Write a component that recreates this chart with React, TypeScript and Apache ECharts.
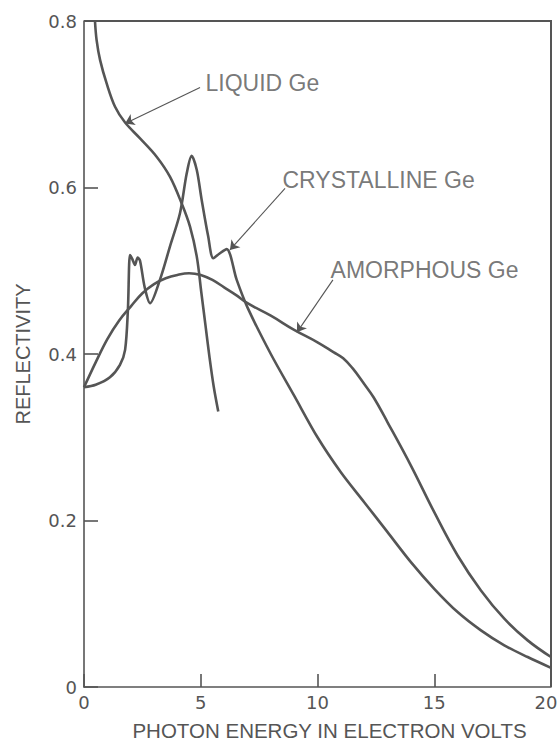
import React, { useEffect, useRef } from "react";
import * as echarts from "echarts";

// ---- data ----
const xTickValues = [0, 5, 10, 15, 20];
const yTickValues = [0, 0.2, 0.4, 0.6, 0.8];

const liquidX = [0.47, 0.54, 0.69, 0.97, 1.33, 1.76, 2.4, 3.11, 3.68, 4.18, 4.54, 4.83, 5.02, 5.2, 5.38, 5.56, 5.75];
const liquidY = [0.8, 0.777, 0.753, 0.725, 0.697, 0.678, 0.659, 0.637, 0.613, 0.581, 0.553, 0.517, 0.475, 0.435, 0.395, 0.36, 0.331];

const crystX = [0, 0.5, 1.11, 1.54, 1.76, 1.88, 1.97, 2.07, 2.18, 2.3, 2.4, 2.6, 2.83, 3.25, 3.68, 4.11, 4.4, 4.61, 4.83, 5.04, 5.32, 5.54, 5.82, 6.11, 6.54, 7.0, 8.0, 9.0, 10.0, 11.0, 12.0, 13.0, 14.0, 15.0, 16.0, 17.0, 18.0, 19.0, 20.0];
const crystY = [0.36, 0.363, 0.372, 0.387, 0.405, 0.453, 0.519, 0.514, 0.507, 0.516, 0.512, 0.48, 0.461, 0.489, 0.529, 0.569, 0.617, 0.638, 0.621, 0.585, 0.541, 0.515, 0.521, 0.526, 0.489, 0.456, 0.4, 0.35, 0.3, 0.258, 0.222, 0.186, 0.15, 0.118, 0.09, 0.068, 0.05, 0.036, 0.023];

const amorphX = [0, 0.5, 1.0, 1.5, 2.0, 2.5, 3.0, 3.5, 4.0, 4.5, 5.0, 5.5, 6.0, 6.5, 7.0, 8.0, 9.0, 10.0, 10.7, 11.1, 11.5, 12.0, 12.4, 13.0, 14.0, 15.0, 16.0, 17.0, 18.0, 19.0, 20.0];
const amorphY = [0.36, 0.39, 0.418, 0.44, 0.457, 0.473, 0.484, 0.491, 0.495, 0.497, 0.495, 0.489, 0.48, 0.471, 0.461, 0.446, 0.429, 0.414, 0.402, 0.395, 0.383, 0.364, 0.348, 0.318, 0.266, 0.21, 0.158, 0.116, 0.082, 0.056, 0.036];

const curveNames = ["LIQUID Ge", "CRYSTALLINE Ge", "AMORPHOUS Ge"];
const labelX = [5.18, 8.48, 10.54];
const labelY = [0.7255, 0.609, 0.501];
const arrowFromX = [4.97, 8.61, 10.66];
const arrowFromY = [0.72, 0.599, 0.489];
const arrowToX = [1.76, 6.25, 9.12];
const arrowToY = [0.677, 0.525, 0.426];

const xAxisTitle = "PHOTON ENERGY IN ELECTRON VOLTS";
const yAxisTitle = "REFLECTIVITY";

const zip = (xs: number[], ys: number[]) => xs.map((x, i) => [x, ys[i]]);

const INK = "#555555";
const FONT = "'Liberation Sans', Arial, Helvetica, sans-serif";
const NUMFONT = "'DejaVu Sans', 'Liberation Sans', sans-serif";

// plot frame geometry (layout, not data)
const GRID_LEFT = 84;
const GRID_TOP = 21;
const GRID_W = 467;
const GRID_H = 666;

export default function App() {
  const ref = useRef<HTMLDivElement>(null);
  useEffect(() => {
    if (!ref.current) return;
    document.documentElement.style.overflow = "hidden";
    document.body.style.margin = "0";
    document.body.style.overflow = "hidden";
    const chart = echarts.init(ref.current, null, { renderer: "svg" });
    const curveStyle = { color: INK, width: 2.6 };
    const xMin = xTickValues[0];
    const xMax = xTickValues[xTickValues.length - 1];
    const yMin = yTickValues[0];
    const yMax = yTickValues[yTickValues.length - 1];
    chart.setOption({
      animation: false,
      backgroundColor: "#ffffff",
      grid: {
        left: GRID_LEFT,
        top: GRID_TOP,
        width: GRID_W,
        height: GRID_H,
        outerBoundsMode: "none",
        containLabel: false,
      },
      graphic: [
        {
          type: "polyline",
          z: 100,
          shape: {
            points: [
              [GRID_LEFT, GRID_TOP],
              [GRID_LEFT + GRID_W, GRID_TOP],
              [GRID_LEFT + GRID_W, GRID_TOP + GRID_H],
            ],
          },
          style: { stroke: INK, lineWidth: 2, fill: null },
        },
      ],
      xAxis: {
        type: "value",
        min: xMin,
        max: xMax,
        interval: 5,
        name: xAxisTitle,
        nameLocation: "middle",
        nameGap: 33,
        nameTextStyle: { color: INK, fontSize: 20.5, fontFamily: FONT, padding: [0, 0, 0, 24] },
        axisLine: { show: true, onZero: false, lineStyle: { color: INK, width: 1.6 } },
        axisTick: { show: true, inside: true, length: 13, lineStyle: { color: INK, width: 1.6 } },
        axisLabel: {
          color: INK,
          fontSize: 18,
          fontFamily: NUMFONT,
          margin: 6,
          formatter: (v: number) =>
            v === xMax ? "{e|" + v + "}" : xTickValues.includes(v) ? String(v) : "",
          rich: {
            e: { color: INK, fontSize: 18, fontFamily: NUMFONT, padding: [0, 10, 0, 0] },
          },
        },
        splitLine: { show: false },
      },
      yAxis: {
        type: "value",
        min: yMin,
        max: yMax,
        interval: 0.2,
        name: yAxisTitle,
        nameLocation: "middle",
        nameRotate: 90,
        nameGap: 51,
        nameTextStyle: { color: INK, fontSize: 20, fontFamily: FONT },
        axisLine: { show: true, onZero: false, lineStyle: { color: INK, width: 1.6 } },
        axisTick: { show: true, inside: true, length: 14, lineStyle: { color: INK, width: 1.6 } },
        axisLabel: {
          color: INK,
          fontSize: 18,
          fontFamily: NUMFONT,
          margin: 7,
          formatter: (v: number) => {
            const t = yTickValues.find((y) => Math.abs(y - v) < 1e-9);
            if (t === undefined) return "";
            return t === 0 ? "0" : t.toFixed(1);
          },
        },
        splitLine: { show: false },
      },
      series: [
        {
          type: "line",
          name: "frame",
          data: [[xMin, yMax], [xMax, yMax], [xMax, yMin]],
          clip: false,
          silent: true,
          showSymbol: false,
          lineStyle: { color: INK, width: 2 },
          itemStyle: { color: INK },
          z: 4,
        },
        {
          type: "line",
          name: curveNames[0],
          data: zip(liquidX, liquidY),
          smooth: 0.35,
          showSymbol: false,
          lineStyle: curveStyle,
          itemStyle: { color: INK },
        },
        {
          type: "line",
          name: curveNames[1],
          data: zip(crystX, crystY),
          smooth: 0.3,
          showSymbol: false,
          lineStyle: curveStyle,
          itemStyle: { color: INK },
        },
        {
          type: "line",
          name: curveNames[2],
          data: zip(amorphX, amorphY),
          smooth: 0.4,
          showSymbol: false,
          lineStyle: curveStyle,
          itemStyle: { color: INK },
        },
        {
          type: "lines",
          coordinateSystem: "cartesian2d",
          symbol: ["none", "arrow"],
          symbolSize: [0, 9],
          lineStyle: { color: INK, width: 1.1, opacity: 1 },
          data: curveNames.map((n, i) => ({
            coords: [
              [arrowFromX[i], arrowFromY[i]],
              [arrowToX[i], arrowToY[i]],
            ],
          })),
          z: 5,
        },
        {
          type: "scatter",
          symbolSize: 1,
          itemStyle: { color: "rgba(0,0,0,0)" },
          data: curveNames.map((n, i) => ({ name: n, value: [labelX[i], labelY[i]] })),
          label: {
            show: true,
            position: "right",
            distance: 0,
            formatter: (p: any) => p.name,
            color: INK,
            fontSize: 23,
            fontFamily: FONT,
          },
          z: 6,
        },
      ],
    });
    return () => chart.dispose();
  }, []);
  return (
    <div
      ref={ref}
      style={{ position: "fixed", left: 0, top: 0, width: 558, height: 742 }}
    />
  );
}
